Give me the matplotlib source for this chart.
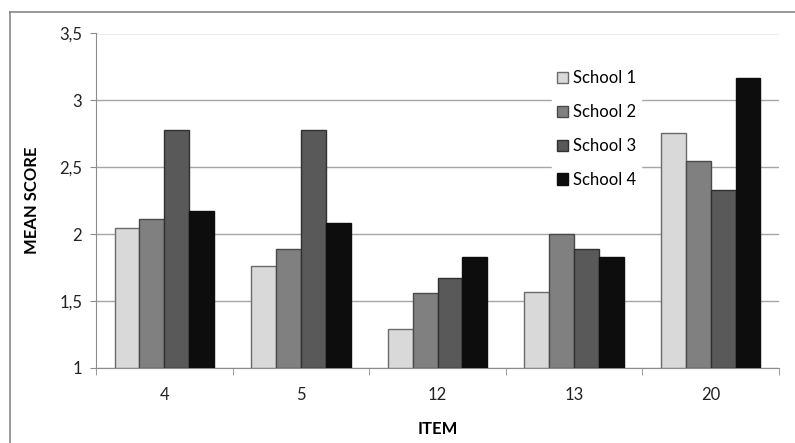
import matplotlib.pyplot as plt
import numpy as np
from matplotlib.lines import Line2D
from matplotlib.patches import Patch

items = ["4", "5", "12", "13", "20"]
schools = ["School 1", "School 2", "School 3", "School 4"]
school_1 = [2.05, 1.76, 1.29, 1.57, 2.76]
school_2 = [2.11, 1.89, 1.56, 2.00, 2.55]
school_3 = [2.78, 2.78, 1.67, 1.89, 2.33]
school_4 = [2.17, 2.08, 1.83, 1.83, 3.17]
y_ticks = [1, 1.5, 2, 2.5, 3, 3.5]

colors = ["#d9d9d9", "#808080", "#595959", "#0d0d0d"]
edges = ["#6a6a6a", "#4a4a4a", "#303030", "#0d0d0d"]

plt.rcParams['font.family'] = ['Lato', 'DejaVu Sans']

fig = plt.figure(figsize=(7.95, 4.43), dpi=100)
ax = fig.add_axes([96 / 795, 1 - 368 / 443, (779 - 96) / 795, (368 - 33.5) / 443])

# chart border
fig.add_artist(Line2D([10 / 795, 10 / 795], [0, 1 - 12 / 443],
                      transform=fig.transFigure, color="#878787", lw=1.2))
fig.add_artist(Line2D([10 / 795, 1], [1 - 12 / 443, 1 - 12 / 443],
                      transform=fig.transFigure, color="#878787", lw=1.2))

x = np.arange(len(items))
width = 1 / 5.5
series = [school_1, school_2, school_3, school_4]
for i, vals in enumerate(series):
    pos = x + (i - 1.5) * width
    ax.bar(pos, np.array(vals) - 1, width, bottom=1, color=colors[i],
           edgecolor=edges[i], linewidth=1, zorder=3)

ax.set_xlim(-0.5, len(items) - 0.5)
ax.set_ylim(1, 3.5)
ax.set_yticks(y_ticks)
ax.set_yticklabels([("%g" % v).replace(".", ",") for v in y_ticks])
ax.set_xticks(x)
ax.set_xticklabels(items)
ax.set_xticks(np.arange(-0.5, len(items)), minor=True)
ax.tick_params(axis="x", which="major", length=0, pad=14, labelsize=12, colors="#222222")
ax.tick_params(axis="x", which="minor", length=5, color="#8c8c8c", direction="out")
ax.tick_params(axis="y", length=4, color="#8c8c8c", pad=6, labelsize=12, colors="#222222")

ax.grid(axis="y", color="#a6a6a6", lw=1, zorder=0)
for s in ["top", "right"]:
    ax.spines[s].set_visible(False)
for s in ["left", "bottom"]:
    ax.spines[s].set_color("#8c8c8c")

ax.set_ylabel("MEAN SCORE", fontweight="bold", fontsize=12, labelpad=14)
ax.set_xlabel("ITEM", fontweight="bold", fontsize=12, labelpad=13)

handles = [Patch(facecolor=c, edgecolor=e, lw=1) for c, e in zip(colors, edges)]
leg = ax.legend(handles, schools, loc="upper left",
                bbox_to_anchor=(544 / 795, 1 - 57 / 443), bbox_transform=fig.transFigure,
                frameon=True, fancybox=False, framealpha=1, edgecolor="white",
                fontsize=12, handlelength=0.65, handleheight=0.65, handletextpad=0.3,
                labelspacing=1.07, borderpad=0.3)
leg.set_zorder(5)

fig.savefig("out.png", dpi=100)
